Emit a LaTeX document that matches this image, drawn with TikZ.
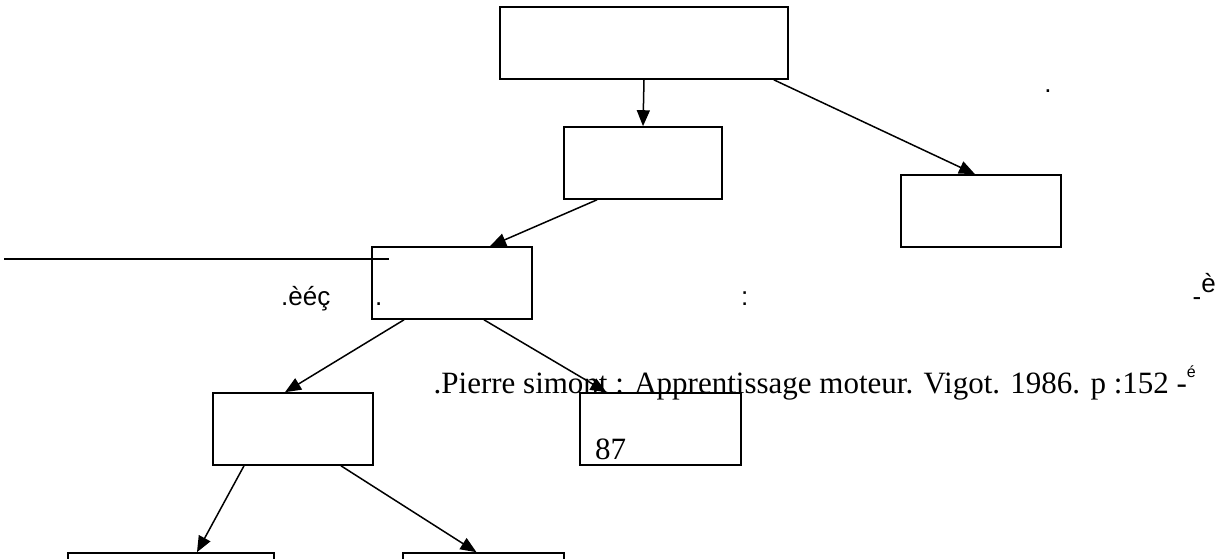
\documentclass[tikz,border=0pt]{standalone}
\usepackage{fontspec}
\setmainfont{Liberation Serif}
\setsansfont{Liberation Sans}
\usetikzlibrary{arrows.meta}

\begin{document}
\begin{tikzpicture}[x=1pt,y=-1pt,
    boite/.style={draw,line width=1.6pt,minimum width=#1,minimum height=72pt,inner sep=0pt},
    fleche/.style={line width=1.5pt,-{Triangle[length=16pt,width=13pt]}},
    sans/.style={inner sep=0pt,font=\sffamily\fontsize{26}{30}\selectfont},
    serif/.style={inner sep=0pt,font=\rmfamily\fontsize{31}{36}\selectfont}]
  \useasboundingbox (0,0) rectangle (1221,558);
  \node[sans,anchor=base west] (accents) at (281,305) {.èéç};
  \node[sans,anchor=base west] (point) at (375,305) {.};
  \node[sans,anchor=base west] (deuxpts) at (741,305) {:};
  \node[sans,anchor=base east] (renvoi) at (1216,305) {-\raisebox{13pt}{è}};
  \node[sans,anchor=base] (pointhaut) at (1048,92) {.};
  \node[serif,anchor=base east] (source) at (1196,393) {.Pierre simont : Apprentissage moteur. Vigot. 1986. p :152 -\raisebox{16pt}{\sffamily\fontsize{16}{16}\selectfont é}};
  \node[serif,anchor=base west] (page) at (595,459) {87};
  \coordinate (traitg) at (4,259);
  \coordinate (traitd) at (389,259);
  \draw[line width=1.6pt] (traitg) -- (traitd);
  \node[boite=288pt] (haut) at (644,43) {};
  \node[boite=158pt] (milieu) at (643,163) {};
  \node[boite=160pt] (droite) at (981,211) {};
  \node[boite=160pt] (centre) at (452,283) {};
  \node[boite=160pt] (gauche) at (293,429) {};
  \node[boite=161pt] (note) at (660.5,429) {};
  \node[boite=206pt] (basg) at (171,589) {};
  \node[boite=161pt] (basd) at (483.5,589) {};
  \draw[fleche] (haut.south) -- (milieu.north);
  \draw[fleche] ([xshift=-15pt]haut.south east) -- ([xshift=-6pt]droite.north);
  \draw[fleche] ([xshift=-46pt]milieu.south) -- ([xshift=38pt]centre.north);
  \draw[fleche] ([xshift=-48pt]centre.south) -- ([xshift=-8pt]gauche.north);
  \draw[fleche] ([xshift=32pt]centre.south) -- ([xshift=-54pt]note.north);
  \draw[fleche] ([xshift=-49pt]gauche.south) -- ([xshift=26pt]basg.north);
  \draw[fleche] ([xshift=48pt]gauche.south) -- ([xshift=-7pt]basd.north);
\end{tikzpicture}
\end{document}
